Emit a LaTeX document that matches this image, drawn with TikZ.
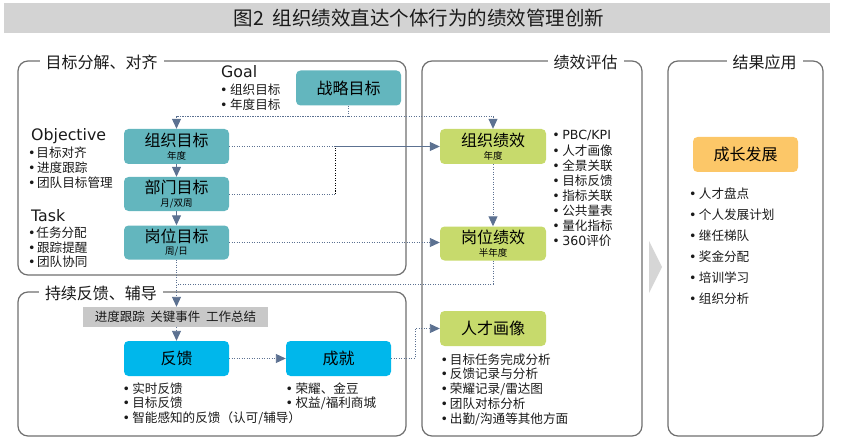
\documentclass[tikz,border=0pt]{standalone}
\usepackage{fontspec}
\setmainfont{Noto Sans CJK SC}
\newfontfamily\lat{DejaVu Sans}
\usetikzlibrary{arrows.meta,calc}
\definecolor{teal1}{HTML}{63B6BE}
\definecolor{green1}{HTML}{C7DA6C}
\definecolor{blue1}{HTML}{00B7EB}
\definecolor{orange1}{HTML}{FCC768}
\definecolor{graybox}{HTML}{C8C8C8}
\definecolor{titlebar}{HTML}{D3D3D3}
\definecolor{frame}{HTML}{6F6F6F}
\definecolor{conn}{HTML}{5C7191}
\definecolor{txt}{HTML}{1A1A1A}
\definecolor{arrowgray}{HTML}{D6D6D6}
\newcommand\bl[1][2.5pt]{{\lat •}\hspace{#1}}
\begin{document}
\begin{tikzpicture}[x=1pt,y=-1pt,
  panel/.style={draw=frame, line width=1.2pt, rounded corners=10pt},
  plabel/.style={fill=white, inner xsep=6pt, inner ysep=1pt, font=\fontsize{16}{16}\selectfont, text=txt},
  box/.style={rounded corners=4.5pt, minimum width=105pt, minimum height=35pt, inner sep=0pt, font=\fontsize{16}{16}\selectfont, text=black},
  ttl/.style={font=\fontsize{16}{16}\selectfont, text=black, inner sep=0pt},
  sub/.style={font=\fontsize{9.5}{9.5}\selectfont, text=black, inner sep=0pt},
  item/.style={anchor=west, inner sep=0pt, font=\fontsize{12.6}{12.6}\selectfont, text=txt, text height=10pt, text depth=2pt},
  hdr/.style={anchor=base west, inner sep=0pt, font=\lat\fontsize{15.8}{15.8}\selectfont, text=txt},
  dl/.style={draw=conn, line width=0.9pt, dash pattern=on 1.2pt off 1.3pt},
  arr/.style={-{Triangle[length=10pt,width=9pt]}}
]
\useasboundingbox (0,0) rectangle (841,441);

% title
\fill[titlebar] (4,3) rectangle (830,33);
\node[inner sep=0pt, font=\fontsize{19.5}{19.5}\selectfont, text=txt] (title) at (419,18) {图2\hspace{0.45em}组织绩效直达个体行为的绩效管理创新};

% panels
\draw[panel] (18,61) rectangle (406,275);
\draw[panel] (18,292) rectangle (406,436);
\draw[panel] (422,61) rectangle (642,436);
\draw[panel] (668,61) rectangle (823,436);
\node[plabel] (l1) at (101.5,62.5) {目标分解、对齐};
\node[plabel] (l2) at (101,293) {持续反馈、辅导};
\node[plabel] (l3) at (585.5,62.5) {绩效评估};
\node[plabel] (l4) at (764.5,62.5) {结果应用};

% big arrow between panels
\fill[arrowgray] (649,241) -- (662,267) -- (649,293) -- cycle;

% boxes
\node[box, fill=teal1] (zl) at (348.5,88) {战略目标};
\node[box, fill=teal1] (zz) at (176.5,146.5) {};
\node[box, fill=teal1, minimum height=34pt] (bm) at (176.5,194) {};
\node[box, fill=teal1, minimum height=34pt] (gw) at (176.5,242.5) {};
\node[box, fill=green1, minimum width=106pt] (zj) at (493,146.5) {};
\node[box, fill=green1, minimum width=106pt, minimum height=34pt] (gj) at (493,243.5) {};
\node[box, fill=green1, minimum width=106pt] (rc) at (493,328.5) {人才画像};
\node[box, fill=blue1] (fk) at (176.5,358.5) {反馈};
\node[box, fill=blue1] (cj) at (338.5,358.5) {成就};
\node[box, fill=orange1] (cz) at (745.5,154.5) {成长发展};
\node[fill=graybox, minimum width=185pt, minimum height=20pt, inner sep=0pt, font=\fontsize{12.5}{12.5}\selectfont, text=txt] (jd) at (175.5,317) {进度跟踪\hspace{0.45em}关键事件\hspace{0.45em}工作总结};

% box titles and subtitles
\node[ttl] (zz-t) at ($(zz.center)+(0,-6.5)$) {组织目标};
\node[sub] (zz-s) at ($(zz.center)+(0,9.5)$) {年度};
\node[ttl] (bm-t) at ($(bm.center)+(0,-6.5)$) {部门目标};
\node[sub] (bm-s) at ($(bm.center)+(0,9.5)$) {月/双周};
\node[ttl] (gw-t) at ($(gw.center)+(0,-6.5)$) {岗位目标};
\node[sub] (gw-s) at ($(gw.center)+(0,9.5)$) {周/日};
\node[ttl] (zj-t) at ($(zj.center)+(0,-6.5)$) {组织绩效};
\node[sub] (zj-s) at ($(zj.center)+(0,9.5)$) {年度};
\node[ttl] (gj-t) at ($(gj.center)+(0,-6.5)$) {岗位绩效};
\node[sub] (gj-s) at ($(gj.center)+(0,9.5)$) {半年度};

% headers
\node[hdr] (goal) at (221,78) {Goal};
\node[hdr] (obj) at (31,141) {Objective};
\node[hdr] (task) at (31,222) {Task};

% lists
\node[item] (goal-1) at (220,91) {\bl{}组织目标};
\node[item] (goal-2) at (220,105.5) {\bl{}年度目标};
\node[item] (obj-1) at (28,154) {\bl[0.8pt]目标对齐};
\node[item] (obj-2) at (28,169) {\bl[1.5pt]进度跟踪};
\node[item] (obj-3) at (28,184) {\bl[1.5pt]团队目标管理};
\node[item] (task-1) at (28,233) {\bl[0.8pt]任务分配};
\node[item] (task-2) at (28,248) {\bl[1.5pt]跟踪提醒};
\node[item] (task-3) at (28,262.5) {\bl[1.5pt]团队协同};
\foreach \t [count=\i from 0] in {{\lat PBC/KPI},人才画像,全景关联,目标反馈,指标关联,公共量表,量化指标,{\lat 360}评价}
  \node[item] (pj-\i) at (552.2,136+15.1*\i) {\bl{}\t};
\foreach \t [count=\i from 0] in {目标任务完成分析,反馈记录与分析,荣耀记录/雷达图,团队对标分析,出勤/沟通等其他方面}
  \node[item] (rc-\i) at (440.5,360+14.9*\i) {\bl[1.8pt]\t};
\foreach \t [count=\i from 0] in {实时反馈,目标反馈,智能感知的反馈（认可/辅导）}
  \node[item] (fk-\i) at (122.5,389+14.6*\i) {\bl[2.2pt]\t};
\foreach \t [count=\i from 0] in {荣耀、金豆,权益/福利商城}
  \node[item] (cj-\i) at (285.5,389+14.6*\i) {\bl{}\t};
\foreach \t [count=\i from 0] in {人才盘点,个人发展计划,继任梯队,奖金分配,培训学习,组织分析}
  \node[item] (cz-\i) at (688.8,195+20.8*\i) {\bl{}\t};

% connectors
\coordinate (j1) at (348.5,116);
\coordinate (mx) at (335,0);
\coordinate (mx2) at (415,0);
\coordinate (my) at (0,284);
\draw[dl] (zl.south) -- (j1);
\draw[dl, arr] (j1) -| (zz.north);
\draw[dl, arr] (j1) -| (zj.north);
\draw[conn, line width=1pt, arr] (zz.south) -- (bm.north);
\draw[conn, line width=1pt, arr] (bm.south) -- (gw.north);
\draw[dl] (zz.east) -- (zz.east -| mx);
\draw[conn, line width=1pt, arr] (zz.east -| mx) -- (zj.west);
\draw[dl] (bm.east) -- (bm.east -| mx);
\draw[black, line width=0.9pt, dash pattern=on 1.2pt off 1.3pt] (bm.east -| mx) -- (zz.east -| mx);
\draw[dl, arr] (gw.east) -- (gw.east -| gj.west);
\draw[dl, arr] (zj.south) -- (gj.north);
\draw[dl] (gj.south) -- (gj.south |- my) -- (gw.south |- my);
\draw[dl, arr] (gw.south) -- (gw.south |- jd.north);
\draw[dl, arr] (gw.south |- jd.south) -- (fk.north);
\draw[dl, arr] (fk.east) -- (cj.west);
\draw[dl, arr] (cj.east) -- (cj.east -| mx2) -- (mx2 |- rc.west) -- (rc.west);
\end{tikzpicture}
\end{document}
